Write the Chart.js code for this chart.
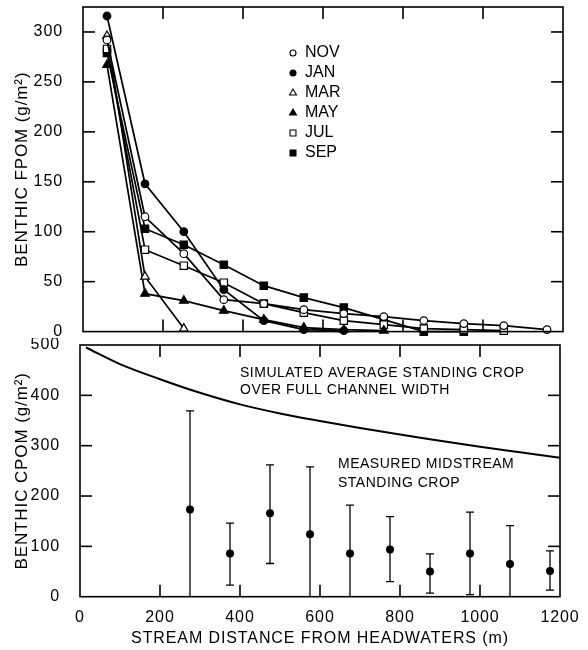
<!DOCTYPE html>
<html lang="en">
<head>
<meta charset="utf-8">
<title>Benthic FPOM and CPOM along the stream</title>
<script src="https://cdn.jsdelivr.net/npm/chart.js"></script>
<style>
    html, body { margin: 0; padding: 0; background: #fff; }
    .painel { position: absolute; left: 0; }
    #graficoFpom { top: 0; }
    #graficoCpom { top: 338px; }
</style>
</head>
<body>
<canvas id="graficoFpom" class="painel" width="588" height="338"></canvas>
<canvas id="graficoCpom" class="painel" width="588" height="312"></canvas>
<script>
// Distâncias (m) das estações de coleta de FPOM
const distanciaFpom = [60, 155, 252, 352, 452, 552, 652, 752, 852, 952, 1052, 1160];

// FPOM bêntico (g/m²) por mês de coleta
const fpomNov = [292, 115, 78, 32, 28, 22, 18, 15, 11, 8, 6, 2];
const fpomJan = [316, 148, 100, 42, 11, 2, 1];
const fpomMar = [296, 55, 3];
const fpomMai = [267, 38, 31, 21, 12, 4, 2, 1];
const fpomJul = [283, 82, 66, 49, 28, 19, 11, 7, 3, 2, 1];
const fpomSet = [279, 103, 87, 67, 46, 34, 24, 12, 0, 0];

const mesesFpom = ['NOV', 'JAN', 'MAR', 'MAY', 'JUL', 'SEP'];

// CPOM medido no meio do canal (média e amplitude)
const distanciaCpom = [275, 375, 475, 575, 675, 775, 875, 975, 1075, 1175];
const cpomMedido = [173, 86, 166, 124, 86, 94, 50, 86, 65, 51];
const cpomMinimo = [0, 23, 66, 0, 0, 30, 7, 4, 0, 13];
const cpomMaximo = [369, 146, 262, 258, 182, 159, 85, 168, 141, 91];

// CPOM simulado, média sobre toda a largura do canal
const distanciaSimulada = [15, 100, 200, 300, 400, 500, 600, 700, 800, 900, 1000, 1100, 1200];
const cpomSimulado = [495, 462, 432, 405, 382, 364, 349, 335, 322, 310, 298, 287, 276];

const ticksDistancia = [0, 200, 400, 600, 800, 1000, 1200];
const ticksFpom = [0, 50, 100, 150, 200, 250, 300];
const ticksCpom = [0, 100, 200, 300, 400, 500];

const FONTE = '"Liberation Sans", Arial, sans-serif';

const estiloMeses = {
    NOV: { forma: 'circle', raio: 3.8, cheio: false },
    JAN: { forma: 'circle', raio: 3.8, cheio: true },
    MAR: { forma: 'triangle', raio: 5, cheio: false },
    MAY: { forma: 'triangle', raio: 5, cheio: true },
    JUL: { forma: 'rect', raio: 5.2, cheio: false },
    SEP: { forma: 'rect', raio: 5.2, cheio: true }
};

function montarPontos(xs, ys) {
    return ys.map((y, i) => ({ x: xs[i], y }));
}

function criarSerieMes(mes, valores) {
    const estilo = estiloMeses[mes];
    return {
        label: mes,
        data: montarPontos(distanciaFpom, valores),
        borderColor: '#000',
        borderWidth: 1.7,
        pointStyle: estilo.forma,
        pointRadius: estilo.raio,
        pointBorderWidth: 1.2,
        pointBorderColor: '#000',
        pointBackgroundColor: estilo.cheio ? '#000' : '#fff',
        tension: 0,
        clip: false
    };
}

// letras um pouco espaçadas, como no desenho original
const espacamentoLetras = {
    id: 'espacamentoLetras',
    beforeDraw(chart, args, opcoes) {
        chart.ctx.letterSpacing = opcoes.valor || '0px';
    }
};

// moldura fechada com marcas voltadas para dentro nos quatro lados
const molduraComMarcas = {
    id: 'molduraComMarcas',
    afterDraw(chart, args, opcoes) {
        const { ctx, chartArea: area, scales } = chart;
        const comp = opcoes.comprimento || 12;
        const linha = (x1, y1, x2, y2) => {
            ctx.beginPath();
            ctx.moveTo(x1, y1);
            ctx.lineTo(x2, y2);
            ctx.stroke();
        };

        ctx.save();
        ctx.strokeStyle = '#000';
        ctx.lineWidth = 1.6;
        ctx.strokeRect(area.left, area.top, area.right - area.left, area.bottom - area.top);

        scales.x.ticks.forEach(tick => {
            if (tick.value <= scales.x.min || tick.value >= scales.x.max) return;
            const px = scales.x.getPixelForValue(tick.value);
            linha(px, area.bottom, px, area.bottom - comp);
            linha(px, area.top, px, area.top + comp);
        });

        scales.y.ticks.forEach(tick => {
            if (tick.value <= scales.y.min || tick.value >= scales.y.max) return;
            const py = scales.y.getPixelForValue(tick.value);
            linha(area.left, py, area.left + comp, py);
            linha(area.right, py, area.right - comp, py);
        });
        ctx.restore();
    }
};

// legenda desenhada dentro da área do gráfico
const legendaInterna = {
    id: 'legendaInterna',
    afterDraw(chart, args, opcoes) {
        const { ctx } = chart;
        ctx.save();
        ctx.font = `16px ${FONTE}`;
        ctx.letterSpacing = '0px';
        ctx.textBaseline = 'middle';
        ctx.textAlign = 'left';
        chart.data.datasets.forEach((serie, indice) => {
            const y = opcoes.y + indice * opcoes.passo;
            ctx.fillStyle = serie.pointBackgroundColor;
            ctx.strokeStyle = '#000';
            ctx.lineWidth = 1.1;
            Chart.helpers.drawPoint(ctx, {
                pointStyle: serie.pointStyle,
                radius: opcoes.raios[serie.pointStyle],
                borderWidth: 1.1,
                rotation: 0
            }, opcoes.x, y);
            ctx.fillStyle = '#000';
            ctx.fillText(serie.label, opcoes.x + 12, y);
        });
        ctx.restore();
    }
};

// barras verticais de amplitude do CPOM medido
const barrasDeErro = {
    id: 'barrasDeErro',
    beforeDatasetsDraw(chart, args, opcoes) {
        const { ctx, scales: { x, y } } = chart;
        const aba = 4;
        ctx.save();
        ctx.strokeStyle = '#000';
        ctx.lineWidth = 1.3;
        opcoes.posicoes.forEach((pos, i) => {
            const px = x.getPixelForValue(pos);
            const topo = y.getPixelForValue(opcoes.maximos[i]);
            const base = y.getPixelForValue(opcoes.minimos[i]);
            ctx.beginPath();
            ctx.moveTo(px, topo);
            ctx.lineTo(px, base);
            ctx.moveTo(px - aba, topo);
            ctx.lineTo(px + aba, topo);
            if (opcoes.minimos[i] > 0) {
                ctx.moveTo(px - aba, base);
                ctx.lineTo(px + aba, base);
            }
            ctx.stroke();
        });
        ctx.restore();
    }
};

const rotulosCpom = {
    id: 'rotulosCpom',
    afterDraw(chart, args, opcoes) {
        const { ctx, chartArea: area } = chart;
        ctx.save();
        ctx.font = `14px ${FONTE}`;
        ctx.letterSpacing = '0.5px';
        ctx.fillStyle = '#000';
        ctx.textBaseline = 'middle';
        ctx.textAlign = 'left';
        opcoes.textos.forEach(item => ctx.fillText(item.texto, area.left + item.dx, area.top + item.dy));
        ctx.restore();
    }
};

function eixoY(ticks, maximo, titulo, largura) {
    return {
        type: 'linear',
        min: 0,
        max: maximo,
        afterBuildTicks: escala => { escala.ticks = ticks.map(value => ({ value })); },
        afterFit: escala => {
            escala.width = largura;
            escala.paddingTop = 0;
            escala.paddingBottom = 0;
        },
        grid: { display: false },
        border: { display: false },
        ticks: { color: '#000', padding: 12, font: { family: FONTE, size: 16 }, callback: valor => String(valor) },
        title: {
            display: true,
            text: titulo,
            color: '#000',
            font: { family: FONTE, size: 17, lineHeight: 1.2 },
            padding: { top: 12, bottom: 0 }
        }
    };
}

function eixoX(mostrarRotulos, altura) {
    return {
        type: 'linear',
        min: 0,
        max: 1200,
        afterBuildTicks: escala => { escala.ticks = ticksDistancia.map(value => ({ value })); },
        afterFit: escala => {
            escala.height = altura;
            escala.paddingLeft = 0;
            escala.paddingRight = 0;
        },
        grid: { display: false },
        border: { display: false },
        ticks: {
            display: mostrarRotulos,
            color: '#000',
            padding: 3,
            maxRotation: 0,
            font: { family: FONTE, size: 16 },
            callback: valor => String(valor)
        },
        title: {
            display: mostrarRotulos,
            text: 'STREAM DISTANCE FROM HEADWATERS (m)',
            color: '#000',
            font: { family: FONTE, size: 16, lineHeight: 1.2 },
            padding: { top: 0, bottom: 2 }
        }
    };
}

const opcoesBase = {
    responsive: false,
    animation: false,
    devicePixelRatio: 1,
    events: []
};

function criarGraficoFpom() {
    const series = [fpomNov, fpomJan, fpomMar, fpomMai, fpomJul, fpomSet];
    new Chart(document.getElementById('graficoFpom'), {
        type: 'line',
        data: { datasets: mesesFpom.map((mes, i) => criarSerieMes(mes, series[i])) },
        options: {
            ...opcoesBase,
            layout: { padding: { top: 7, right: 25, bottom: 6.3, left: 0 } },
            scales: {
                x: eixoX(false, 0),
                y: eixoY(ticksFpom, 325, 'BENTHIC FPOM (g/m²)', 83)
            },
            plugins: {
                legend: { display: false },
                tooltip: { enabled: false },
                espacamentoLetras: { valor: '0.9px' },
                molduraComMarcas: { comprimento: 12 },
                legendaInterna: { x: 293, y: 53, passo: 20, raios: { circle: 3, triangle: 4, rect: 4.2 } }
            }
        },
        plugins: [espacamentoLetras, molduraComMarcas, legendaInterna]
    });
}

function criarGraficoCpom() {
    new Chart(document.getElementById('graficoCpom'), {
        type: 'line',
        data: {
            datasets: [
                {
                    label: 'Simulated',
                    data: montarPontos(distanciaSimulada, cpomSimulado),
                    borderColor: '#000',
                    borderWidth: 2,
                    pointRadius: 0,
                    cubicInterpolationMode: 'monotone',
                    clip: false
                },
                {
                    label: 'Measured',
                    data: montarPontos(distanciaCpom, cpomMedido),
                    showLine: false,
                    pointStyle: 'circle',
                    pointRadius: 4,
                    pointBorderWidth: 0,
                    pointBackgroundColor: '#000',
                    clip: false
                }
            ]
        },
        options: {
            ...opcoesBase,
            layout: { padding: { top: 7, right: 28, bottom: 0, left: 0 } },
            scales: {
                x: eixoX(true, 53.3),
                y: eixoY(ticksCpom, 500, 'BENTHIC CPOM (g/m²)', 80)
            },
            plugins: {
                legend: { display: false },
                tooltip: { enabled: false },
                espacamentoLetras: { valor: '0.9px' },
                molduraComMarcas: { comprimento: 12 },
                barrasDeErro: { posicoes: distanciaCpom, minimos: cpomMinimo, maximos: cpomMaximo },
                rotulosCpom: {
                    textos: [
                        { texto: 'SIMULATED AVERAGE STANDING CROP', dx: 160, dy: 28 },
                        { texto: 'OVER FULL CHANNEL WIDTH', dx: 160, dy: 45.5 },
                        { texto: 'MEASURED MIDSTREAM', dx: 258, dy: 119 },
                        { texto: 'STANDING CROP', dx: 258, dy: 138 }
                    ]
                }
            }
        },
        plugins: [espacamentoLetras, molduraComMarcas, barrasDeErro, rotulosCpom]
    });
}

criarGraficoFpom();
criarGraficoCpom();
</script>
</body>
</html>
